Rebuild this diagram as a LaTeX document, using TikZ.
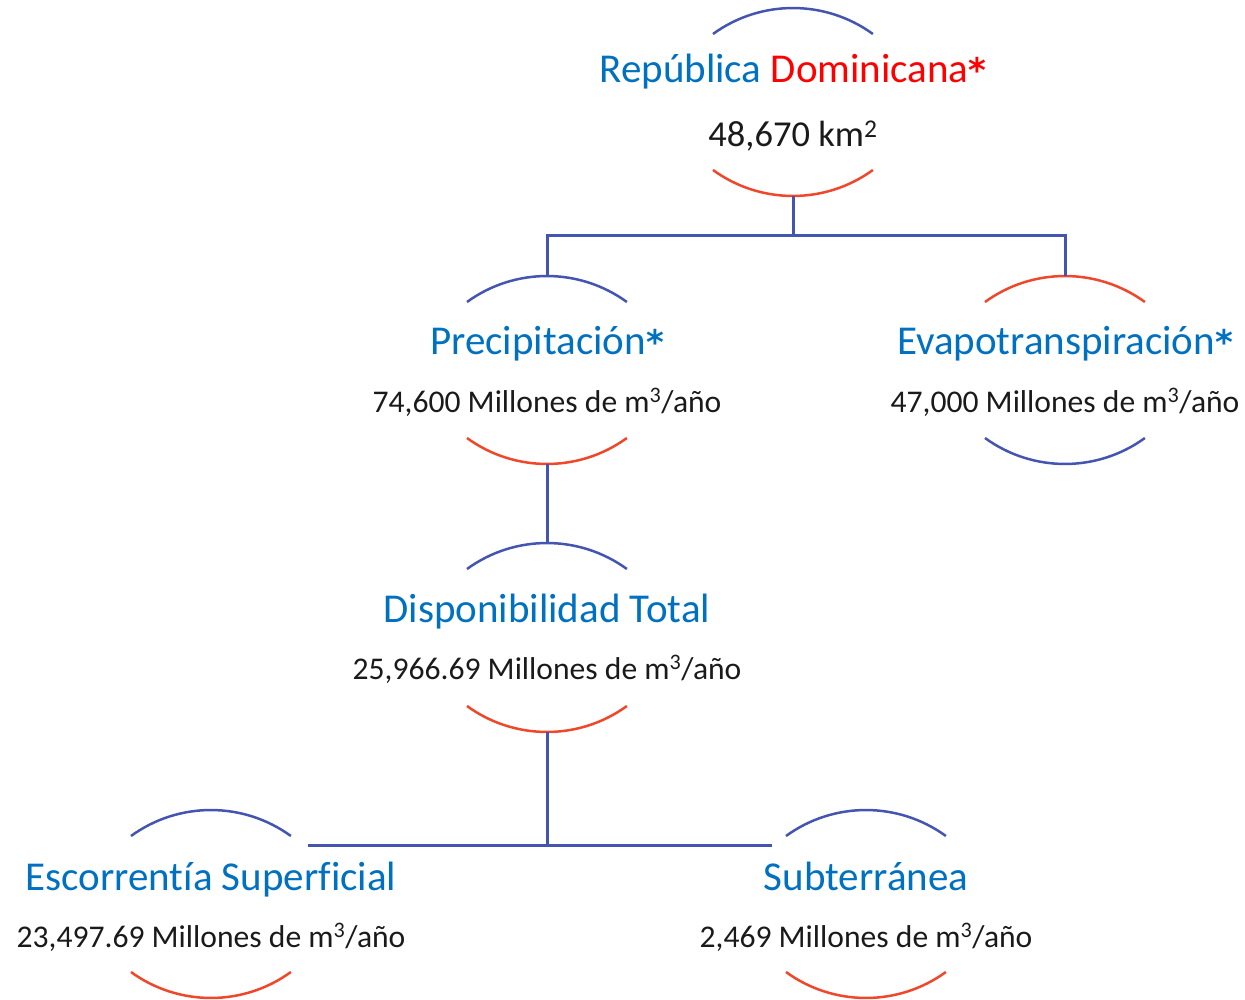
\documentclass[tikz,border=0pt]{standalone}
\usepackage{fontspec}
\setmainfont{Carlito}[Ligatures=NoCommon]
\newfontfamily\starfont{DejaVu Sans}
\definecolor{lineblue}{HTML}{4355B0}
\definecolor{arcredc}{HTML}{F0472A}
\definecolor{titleblue}{HTML}{0070C0}
\definecolor{rdred}{HTML}{FF0000}
\definecolor{valtext}{HTML}{1A1A1A}
\newcommand\starmark{{\starfont\bfseries\fontsize{34}{40}\selectfont *}}
\tikzset{
  titletext/.style={anchor=base, text=titleblue, font=\fontsize{41}{49}\selectfont, inner sep=0pt},
  valuetext/.style={anchor=base, text=valtext, font=\fontsize{31.6}{38}\selectfont, inner sep=0pt},
  arcblue/.style={draw=lineblue, line width=2.5pt},
  arcred/.style={draw=arcredc, line width=2.5pt},
  conn/.style={draw=lineblue, line width=3pt},
  toparc/.style={insert path={++(-80,26) arc[start angle=126,end angle=54,radius=136pt]}},
  botarc/.style={insert path={++(-80,-26) arc[start angle=234,end angle=306,radius=136pt]}}
}
\begin{document}
\begin{tikzpicture}[x=1pt,y=-1pt]
\useasboundingbox (0,0) rectangle (1245,1000);
% arc anchor coordinates (top of upper arc, bottom of lower arc)
\coordinate (rdT) at (793,8);    \coordinate (rdB) at (793,196);
\coordinate (prT) at (547,276);  \coordinate (prB) at (547,464);
\coordinate (evT) at (1065,276); \coordinate (evB) at (1065,464);
\coordinate (dpT) at (547,543);  \coordinate (dpB) at (547,732);
\coordinate (esT) at (211,810);  \coordinate (esB) at (211,998);
\coordinate (suT) at (866,810);  \coordinate (suB) at (866,998);
\coordinate (j1) at (793,236);
\coordinate (j2) at (547,845);
\coordinate (hL) at (308,845);
\coordinate (hR) at (772,845);
% arcs
\draw[arcblue] (rdT) [toparc];
\draw[arcred]  (rdB) [botarc];
\draw[arcblue] (prT) [toparc];
\draw[arcred]  (prB) [botarc];
\draw[arcred]  (evT) [toparc];
\draw[arcblue] (evB) [botarc];
\draw[arcblue] (dpT) [toparc];
\draw[arcred]  (dpB) [botarc];
\draw[arcblue] (esT) [toparc];
\draw[arcred]  (esB) [botarc];
\draw[arcblue] (suT) [toparc];
\draw[arcred]  (suB) [botarc];
% connectors
\draw[conn] (rdB) -- (j1);
\draw[conn] (prT) -- (prT |- j1) -- (evT |- j1) -- (evT);
\draw[conn] (prB) -- (dpT);
\draw[conn] (dpB) -- (j2);
\draw[conn] (hL) -- (hR);
% texts
\node[titletext] (rdt) at (793,83) {República {\color{rdred}Dominicana\starmark}};
\node[valuetext, font=\fontsize{36.5}{44}\selectfont] (rdv) at (793,147) {48,670 km\textsuperscript{2}};
\node[titletext] (prt) at (547,355) {Precipitación\starmark};
\node[valuetext] (prv) at (547,412) {74,600 Millones de m\textsuperscript{3}/año};
\node[titletext] (evt) at (1065,355) {Evapotranspiración\starmark};
\node[valuetext] (evv) at (1065,412) {47,000 Millones de m\textsuperscript{3}/año};
\node[titletext] (dpt) at (547,622) {Disponibilidad Total};
\node[valuetext] (dpv) at (547,679) {25,966.69 Millones de m\textsuperscript{3}/año};
\node[titletext] (est) at (211,890) {Escorrentía Superficial};
\node[valuetext] (esv) at (211,947) {23,497.69 Millones de m\textsuperscript{3}/año};
\node[titletext] (sut) at (866,890) {Subterránea};
\node[valuetext] (suv) at (866,947) {2,469 Millones de m\textsuperscript{3}/año};
\end{tikzpicture}
\end{document}
